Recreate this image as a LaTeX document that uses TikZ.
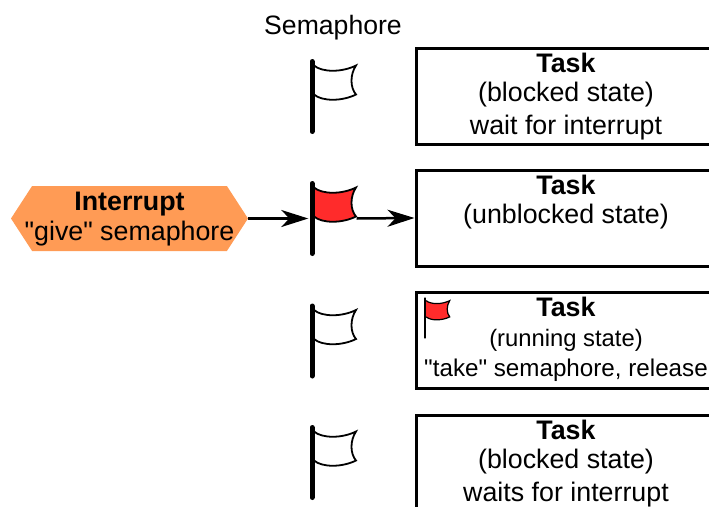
\documentclass[tikz,border=0pt]{standalone}
\usepackage{fontspec}
\setmainfont{Liberation Sans}
\usetikzlibrary{arrows.meta, shapes.symbols}
\definecolor{flagred}{HTML}{FF2B2B}
\definecolor{irqorange}{HTML}{FF9B55}
\tikzset{
	taskbox/.style = {draw, line width = 3, minimum width = 294, minimum height = 96, inner sep = 0},
	tasktext/.style = {align = center, font = \fontsize{26.8}{29.5}\selectfont, inner sep = 0},
	flagspot/.style = {minimum width = 45, minimum height = 71, inner sep = 0},
	flagpole/.style = {line width = 5, line cap = round},
	flagcloth/.style = {line width = 1.8},
	signalarrow/.style = {line width = 2.5, -{Stealth[length = 27pt, width = 17pt, inset = 8pt]}},
	semaflag/.pic = {
		\draw [flagcloth, fill = #1] (-20,-31)
			.. controls (-12,-24) and (8,-24) .. (22,-31)
			.. controls (16,-22) and (16,-9) .. (22,-2)
			.. controls (8,5) and (-12,5) .. (-20,-2);
		\draw [flagpole] (-22,-35) -- (-22,35);
	}
}

\begin{document}
\begin{tikzpicture}[x = 1pt, y = -1pt]
		\useasboundingbox (0,0) rectangle (709,506);
		
		\node [font = \fontsize{26.6}{29}\selectfont, inner sep = 0] (semlabel) at (333,28) {Semaphore};
		
		\begin{scope}
			\node [flagspot] (flagone) at (334,96.5) {};
			\node [flagspot] (flagtwo) at (334,218.5) {};
			\node [flagspot] (flagthree) at (334,341) {};
			\node [flagspot] (flagfour) at (334,462.5) {};
		\end{scope}
		
		\begin{scope}
			\pic at (flagone) {semaflag = white};
			\pic at (flagtwo) {semaflag = flagred};
			\pic at (flagthree) {semaflag = white};
			\pic at (flagfour) {semaflag = white};
		\end{scope}
		
		\begin{scope}
			\clip (0,0) rectangle (709,506);
			\node [taskbox] (taskone) at (563,96) {};
			\node [taskbox] (tasktwo) at (563,218) {};
			\node [taskbox] (taskthree) at (563,340) {};
			\node [taskbox] (taskfour) at (563,463) {};
		\end{scope}
		
		\begin{scope}
			\node [tasktext, anchor = north] (textone) at (566,52.5) {\textbf{Task}\\(blocked state)\\[3pt]wait for interrupt};
			\node [tasktext, anchor = north] (texttwo) at (566,174.5) {\textbf{Task}\\(unblocked state)};
			\node [tasktext, anchor = north] (textthree) at (566,296.5) {\textbf{Task}\\[1pt]{\fontsize{23.8}{29.5}\selectfont (running state)}\\{\fontsize{24.2}{29.5}\selectfont \textquotedbl take\textquotedbl{} semaphore, release}};
			\node [tasktext, anchor = north] (textfour) at (566,419.5) {\textbf{Task}\\(blocked state)\\[3pt]waits for interrupt};
		\end{scope}
		
		\node [coordinate] (runflag) at (437.4,318) {};
		\pic [scale = 0.56, flagpole/.append style = {line width = 2.5}, flagcloth/.append style = {line width = 1.2}] at (runflag) {semaflag = flagred};
		
		\node [signal, signal to = west and east, signal pointer angle = 114, fill = irqorange, minimum width = 237, minimum height = 65, inner sep = 0] (irq) at (129.5,218.5) {};
		\node [tasktext] (irqtext) at (129.5,219) {\textbf{Interrupt}\\[1pt]\textquotedbl give\textquotedbl{} semaphore};
		
		\draw [signalarrow, shorten > = 3] (irq.east) -- (flagtwo.west);
		\draw [signalarrow] (flagtwo.east) -- (tasktwo.west);
	\end{tikzpicture}
\end{document}
